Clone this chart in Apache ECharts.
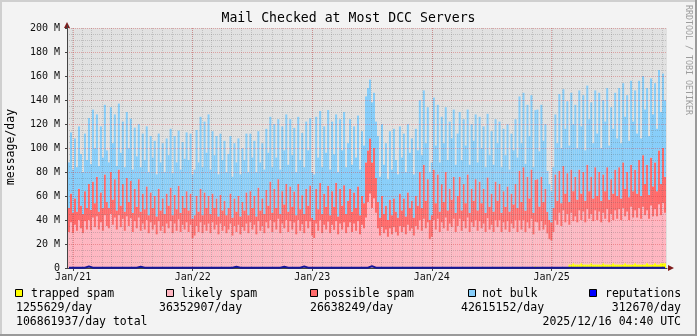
<!DOCTYPE html>
<html>
<head>
<meta charset="utf-8">
<script src="https://cdn.jsdelivr.net/npm/echarts@6/dist/echarts.min.js"></script>
<style>
  html, body { margin: 0; padding: 0; background: #f3f3f3; }
  #chart { width: 697px; height: 336px; }
</style>
</head>
<body>
<div id="chart"></div>
<script>
// Mail checked at most DCC servers, consolidated into 300 bins (~6 days each), values in millions/day.
const periodStart = Date.UTC(2020, 11, 16, 4, 40);
const periodEnd = Date.UTC(2025, 11, 16, 4, 40);
const DAY = 24 * 3600 * 1000;

const yearLabels = ['Jan/21', 'Jan/22', 'Jan/23', 'Jan/24', 'Jan/25'];
const yTickLabels = ['0', '20 M', '40 M', '60 M', '80 M', '100 M', '120 M', '140 M', '160 M', '180 M', '200 M'];

const legendNames = ['trapped spam', 'likely spam', 'possible spam', 'not bulk', 'reputations'];
const legendAverages = ['1255629/day', '36352907/day', '26638249/day', '42615152/day', '312670/day'];
const totalText = '106861937/day total';
const stampText = '2025/12/16 04:40 UTC';
const chartTitle = 'Mail Checked at Most DCC Servers';
const unitLabel = 'message/day';
const watermark = 'RRDTOOL / TOBI OETIKER';

const trappedSpam = [
  0,0,0,0,0, 0,0,0,0,0, 0,0.5,0,0,0, 0,0,0,0,0, 0,0,0,0,0,
  0,0,0,0,0, 0,0.5,0,0,0, 0,0,0,0,0, 0,0,0,0,0, 0,0,0,0,0,
  0,0,0,0,0, 0.5,0,0,0,0, 0,0,0,0,0, 0,0,0,0,0, 0,0,0,0,0,
  0,0,0,0,0, 0,0,0,0,0, 0,0,0,0,0, 0,0,0,0,0, 0,0,0,0,0,
  0,0,0,0,0, 0,0,0,0,0, 0,0,0,0.8,0, 0,0,0.6,0,0, 0,0.8,0,0,0,
  0,0.8,0,0,0, 0.6,0,0,0.8,0, 0,0,0,0,0, 0,0,0,0,0, 0,0,0,0,0,
  0,0,0,0,0, 0,0,0,0,0, 0,0,0,0,0, 0,0,0,0,0, 0,0,0,0,0,
  0,0,0,0,0, 0,0,0,0,0, 0,0,0,0,0, 0,0,0,0,0, 0,0,0,0,0,
  0,0,0,0,0, 0,0,0,0,0, 0.5,0,0,0,0, 0,0,0,0,0, 0,0,0,0,0,
  0,1,0,0,0.8, 0,0,0,0,1.5, 0,1.2,0,0,0, 0.8,0,0,0,0, 0,1,0,1,0,
  1,3,3,4,3, 3,3,4,3,3, 3,3,4,3,3, 3,3,3,4,3, 3,3,3,4,3,
  3,3,3,3,4, 3,3,3,3,4, 3,3,3,3,3, 4,3,3,3,4, 3,3,4,4,4
];

const likelySpam = [
  30,38,29,36,31,40,33,29,39,32,
  40,31,42,34,43,32,38,31,44,35,
  33,45,36,42,32,44,34,41,31,43,
  35,41,30,39,33,42,31,37,32,40,
  29,38,32,36,28,39,31,35,29,37,
  33,39,29,37,31,40,30,36,32,38,
  30,36,25,27,35,30,38,29,36,31,
  37,29,38,32,36,28,37,31,35,29,
  32,37,27,35,30,36,28,34,31,37,
  29,38,32,36,28,39,31,35,29,38,
  33,40,30,38,32,41,29,37,33,40,
  30,39,32,37,28,40,31,36,29,39,
  33,38,27,25,37,31,39,29,36,32,
  38,29,36,31,39,28,37,32,38,29,
  34,38,30,37,31,39,28,36,33,42,
  55,62,50,58,46,33,27,34,29,32,
  26,33,28,34,30,27,35,30,34,28,
  36,31,33,27,35,32,40,31,41,33,
  38,24,26,40,32,41,30,38,33,42,
  31,37,34,41,30,35,41,31,39,33,
  42,30,38,34,40,31,39,33,37,30,
  41,32,36,30,40,34,40,30,38,32,
  39,30,37,33,40,30,39,32,40,29,
  38,33,41,28,37,38,30,39,32,36,
  28,24,23,30,40,36,45,35,47,38,
  44,33,43,35,40,35,45,36,44,35,
  46,38,41,36,45,37,44,35,42,38,
  46,35,42,36,45,38,46,37,47,39,
  44,37,48,39,44,39,47,38,48,41,
  44,38,49,40,45,40,50,40,50,42
];

const possibleSpam = [
  20,24,17,22,16,26,19,16,25,18,
  30,17,30,20,33,15,25,19,34,20,
  17,35,21,32,16,38,18,29,16,32,
  20,31,16,27,18,32,16,25,17,28,
  15,25,18,24,15,27,17,23,16,25,
  19,28,15,24,18,28,16,24,18,26,
  18,26,16,17,25,17,28,15,27,19,
  23,16,24,18,22,15,24,17,21,15,
  18,25,15,23,17,24,15,21,17,26,
  15,26,18,24,15,28,17,23,16,27,
  19,32,16,28,18,33,16,27,20,30,
  17,29,19,26,16,30,18,24,16,27,
  19,30,15,15,29,18,31,16,26,19,
  30,15,28,19,32,15,29,20,31,16,
  22,28,17,26,19,29,16,24,21,46,
  43,46,38,42,29,22,15,26,16,20,
  14,24,16,24,17,15,27,18,24,15,
  27,19,23,15,25,20,40,19,45,23,
  36,16,18,42,22,37,17,32,22,38,
  17,29,23,35,16,25,35,17,31,21,
  36,16,28,22,34,17,33,21,29,16,
  34,19,26,17,32,22,30,16,26,19,
  29,17,25,20,30,20,41,23,44,18,
  38,25,41,18,35,36,20,37,23,30,
  18,16,15,20,38,20,35,19,37,24,
  34,19,36,25,33,19,34,22,33,18,
  37,23,31,19,36,20,33,18,32,23,
  35,19,29,22,34,19,35,18,38,23,
  33,19,35,22,34,20,40,19,43,26,
  38,20,40,25,39,21,45,26,46,30
];

const notBulk = [
  38,51,36,50,37,52,43,35,48,40,
  55,38,60,46,52,38,55,42,58,43,
  38,54,47,54,37,55,44,52,37,55,
  45,52,36,51,42,46,37,50,41,50,
  36,47,42,46,35,46,40,46,35,46,
  42,49,35,49,39,46,36,45,41,49,
  42,50,37,38,55,41,60,40,59,46,
  68,37,52,44,52,35,51,42,50,36,
  45,48,34,46,41,48,35,45,42,49,
  36,48,42,46,37,47,40,46,37,51,
  44,54,38,54,42,50,37,54,45,58,
  39,56,43,53,36,56,41,52,39,56,
  46,56,38,38,60,43,60,39,56,45,
  63,38,58,44,57,37,58,46,61,39,
  48,58,39,55,42,59,38,54,48,55,
  52,49,50,46,47,55,34,60,41,52,
  34,57,38,58,43,36,56,44,54,37,
  57,46,52,36,56,46,60,44,62,48,
  60,40,44,60,48,58,41,56,49,54,
  42,56,51,56,40,52,54,42,54,48,
  54,40,54,50,54,40,54,46,52,38,
  53,43,52,39,52,48,52,38,52,43,
  52,35,50,45,54,42,62,49,62,39,
  60,52,62,38,58,58,46,60,51,54,
  34,30,26,34,50,48,64,46,64,54,
  60,47,64,56,60,43,66,56,64,42,
  66,60,62,46,64,52,66,44,62,58,
  66,45,60,54,64,48,66,46,66,60,
  64,47,70,58,66,50,66,48,66,62,
  64,49,66,60,66,52,67,60,62,64
];

const reputations = [
  0.3,0.3,0.3,0.3,0.3, 0.3,0.3,0.3,0.3,0.3, 1.2,0.3,0.3,0.3,0.3, 0.3,0.3,0.3,0.3,0.3, 0.3,0.3,0.3,0.3,0.3,
  0.3,0.3,0.3,0.3,0.3, 0.3,0.3,0.3,0.3,0.3, 0.3,1.0,0.3,0.3,0.3, 0.3,0.3,0.3,0.3,0.3, 0.3,0.3,0.3,0.3,0.3,
  0.3,0.3,0.3,1.2,0.3, 0.3,0.3,0.3,0.3,0.3, 0.3,0.3,0.3,0.3,0.3, 0.3,0.3,0.3,0.3,0.3, 0.3,0.3,0.3,0.3,0.3,
  0.3,0.3,0.3,0.3,0.3, 0.3,0.3,0.3,0.3,1.0, 0.3,0.3,0.3,0.3,0.3, 0.3,0.3,0.3,0.3,0.3, 1.2,0.3,0.3,0.3,0.3,
  0.3,0.3,0.3,0.3,0.3, 0.3,0.3,0.3,1.0,0.3, 0.3,0.3,0.3,0.3,0.3, 0.3,0.3,0.3,1.2,0.3, 0.3,0.3,0.3,0.3,0.3,
  0.3,0.3,0.3,0.3,0.3, 0.3,0.3,0.3,0.3,0.3, 0.3,0.3,0.3,0.3,0.3, 0.3,0.3,0.3,0.3,0.3, 0.3,0.3,0.3,0.3,0.3,
  0.3,0.3,1.5,0.3,0.3, 0.3,0.3,0.3,0.3,0.3, 0.3,0.3,0.3,0.3,0.3, 0.3,0.3,0.3,0.3,0.3, 0.3,0.3,0.3,0.3,0.3,
  0.3,0.3,0.3,0.3,0.3, 0.3,0.3,0.3,0.3,0.3, 0.3,0.3,0.3,0.3,0.3, 0.3,0.3,0.3,0.3,0.3, 0.3,0.3,0.3,0.3,0.3,
  0.3,0.3,0.3,0.3,0.3, 0.3,0.3,0.3,0.3,0.3, 0.3,0.3,0.3,0.3,0.3, 0.3,0.3,0.3,0.3,0.3, 0.3,0.3,0.3,0.3,0.3,
  0.3,0.3,0.3,0.3,0.3, 0.3,0.3,0.3,0.3,0.3, 0.3,0.3,0.3,0.3,0.3, 0.3,0.3,0.3,0.3,0.3, 0.3,0.3,0.3,0.3,0.3,
  0.3,0.3,0.3,0.3,0.3, 0.3,0.3,0.3,0.3,0.3, 0.3,0.3,0.3,0.3,0.3, 0.3,0.3,0.3,0.3,0.3, 0.3,0.3,0.3,0.3,0.3,
  0.3,0.3,0.3,0.3,0.3, 0.3,0.3,0.3,0.3,0.3, 0.3,0.3,0.3,0.3,0.3, 0.3,0.3,0.3,0.3,0.3, 0.3,0.3,0.3,0.3,0.3
];

const seriesColors = ['#ffff00', '#ffb6c1', '#ff6b6b', '#87cefa', '#0000ff'];

// Layout of the plot canvas (pixels)
const plot = { left: 67, top: 28, width: 600, height: 240 };
const FONT = '"DejaVu Sans Mono", monospace';

// Each bin is stamped at its centre time
const binSpan = (periodEnd - periodStart) / likelySpam.length;
const binTimes = likelySpam.map((_, i) => periodStart + (i + 0.5) * binSpan);
const withTime = values => values.map((v, i) => [binTimes[i], v]);

function stackedBar(name, values, color) {
  return {
    name, type: 'bar', stack: 'mail', barWidth: 2,
    data: withTime(values),
    itemStyle: { color, borderWidth: 0 },
    emphasis: { disabled: true },
    animation: false
  };
}

const gridMajor = { color: 'rgba(210,60,60,0.38)', width: 1, type: [1, 1] };
const gridMinor = { color: 'rgba(100,100,100,0.27)', width: 1, type: [1, 1] };

function yearTick(v) {
  const d = new Date(v);
  if (d.getUTCMonth() !== 0 || d.getUTCDate() !== 1) return '';
  return yearLabels[d.getUTCFullYear() - 2021] || '';
}

// Legend block laid out in the RRD style: swatch + name, then average, then totals
const legendCols = [
  { box: 15, name: 31, avg: 16, avgAlign: 'left' },
  { box: 166, name: 181, avg: 159, avgAlign: 'left' },
  { box: 310, name: 324, avg: 310, avgAlign: 'left' },
  { box: 468, name: 482, avg: 461, avgAlign: 'left' },
  { box: 589, name: 605, avg: 681, avgAlign: 'right' }
];
const legendText = (text, x, y, align) => ({
  type: 'text', x, y, silent: true,
  style: { text, font: '11.5px ' + FONT, fill: '#000', align, verticalAlign: 'middle' }
});
const legendGraphics = [];
legendCols.forEach((c, i) => {
  legendGraphics.push({
    type: 'rect', silent: true,
    shape: { x: c.box + 0.5, y: 289.5, width: 7, height: 7 },
    style: { fill: seriesColors[i], stroke: '#000', lineWidth: 1 }
  });
  legendGraphics.push(legendText(legendNames[i], c.name, 294, 'left'));
  legendGraphics.push(legendText(legendAverages[i], c.avg, 308.5, c.avgAlign));
});
legendGraphics.push(legendText(totalText, 16, 322, 'left'));
legendGraphics.push(legendText(stampText, 681, 322, 'right'));

const plotRight = plot.left + plot.width;
const plotBottom = plot.top + plot.height;

const chart = echarts.init(document.getElementById('chart'), null, { renderer: 'canvas' });
chart.setOption({
  backgroundColor: '#f3f3f3',
  useUTC: true,
  animation: false,
  grid: {
    left: plot.left, top: plot.top, width: plot.width, height: plot.height,
    show: true, backgroundColor: '#e1e1e1', borderWidth: 0
  },
  xAxis: [
    {
      type: 'time', min: periodStart, max: periodEnd,
      minInterval: 365 * DAY, maxInterval: 366 * DAY,
      z: 4,
      axisLine: { show: true, onZero: false, lineStyle: { color: '#444', width: 1 } },
      axisTick: { show: true, length: 3, lineStyle: { color: '#444' } },
      axisLabel: {
        formatter: yearTick, fontFamily: FONT, fontSize: 10, color: '#111', margin: 4,
        showMinLabel: false, showMaxLabel: false, hideOverlap: false
      },
      splitLine: { show: true, showMinLine: false, showMaxLine: false, lineStyle: gridMajor }
    },
    {
      type: 'time', min: periodStart, max: periodEnd, position: 'top',
      minInterval: 28 * DAY, maxInterval: 31 * DAY,
      z: 3,
      axisLine: { show: false }, axisTick: { show: false }, axisLabel: { show: false },
      splitLine: { show: true, showMinLine: false, showMaxLine: false, lineStyle: gridMinor }
    }
  ],
  yAxis: {
    type: 'value', min: 0, max: 200, interval: 20, z: 4,
    axisLine: { show: true, lineStyle: { color: '#444', width: 1 } },
    axisTick: { show: true, length: 2, lineStyle: { color: '#444' } },
    axisLabel: {
      formatter: v => yTickLabels[Math.round(v / 20)],
      fontFamily: FONT, fontSize: 10, color: '#111', margin: 7
    },
    splitLine: { show: true, lineStyle: gridMajor },
    minorTick: { show: false, splitNumber: 4 },
    minorSplitLine: { show: true, lineStyle: gridMinor }
  },
  series: [
    stackedBar(legendNames[0], trappedSpam, seriesColors[0]),
    stackedBar(legendNames[1], likelySpam, seriesColors[1]),
    stackedBar(legendNames[2], possibleSpam, seriesColors[2]),
    stackedBar(legendNames[3], notBulk, seriesColors[3]),
    {
      name: legendNames[4], type: 'line', data: withTime(reputations),
      showSymbol: false, z: 5,
      lineStyle: { color: '#16169a', width: 2 },
      emphasis: { disabled: true }
    }
  ],
  graphic: { elements: [
    // 3D frame around the whole image
    { type: 'rect', silent: true, shape: { x: 0, y: 0, width: 697, height: 2 }, style: { fill: '#cfcfcf' } },
    { type: 'rect', silent: true, shape: { x: 0, y: 0, width: 2, height: 336 }, style: { fill: '#cfcfcf' } },
    { type: 'rect', silent: true, shape: { x: 0, y: 334, width: 697, height: 2 }, style: { fill: '#9a9a9a' } },
    { type: 'rect', silent: true, shape: { x: 695, y: 0, width: 2, height: 336 }, style: { fill: '#9a9a9a' } },
    // axis arrow heads
    { type: 'polygon', silent: true, z: 10,
      shape: { points: [[plot.left - 3, plot.top], [plot.left + 3, plot.top], [plot.left, plot.top - 6]] },
      style: { fill: '#7e1c1c' } },
    { type: 'line', silent: true, z: 10,
      shape: { x1: plot.left + 0.5, y1: plot.top, x2: plot.left + 0.5, y2: plot.top - 3 },
      style: { stroke: '#444', lineWidth: 1 } },
    { type: 'polygon', silent: true, z: 10,
      shape: { points: [[plotRight + 1, plotBottom - 3], [plotRight + 1, plotBottom + 3], [plotRight + 7, plotBottom]] },
      style: { fill: '#7e1c1c' } },
    // title, unit and watermark
    { type: 'text', silent: true, x: 348.5, y: 19,
      style: { text: chartTitle, font: '13.2px ' + FONT, fill: '#000', align: 'center', verticalAlign: 'middle' } },
    { type: 'text', silent: true, x: 11, y: 147, rotation: Math.PI / 2,
      style: { text: unitLabel, font: '11.5px ' + FONT, fill: '#000', align: 'center', verticalAlign: 'middle' } },
    { type: 'text', silent: true, x: 688, y: 60, rotation: -Math.PI / 2,
      style: { text: watermark, font: '8.3px ' + FONT, fill: '#9c9c9c', align: 'center', verticalAlign: 'middle' } }
  ].concat(legendGraphics) }
});
</script>
</body>
</html>
